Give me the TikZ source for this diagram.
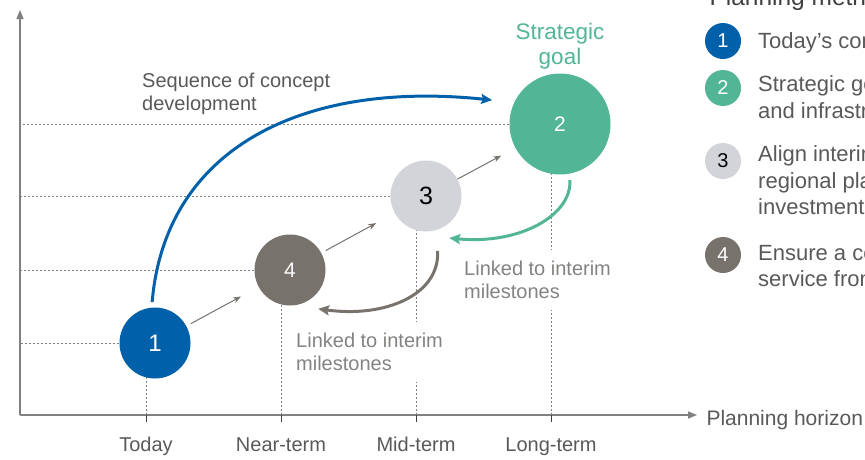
\documentclass[tikz,border=0pt]{standalone}
\usepackage{fontspec}
\setmainfont{Liberation Sans}
\usetikzlibrary{arrows.meta,calc,backgrounds}
\definecolor{planblue}{HTML}{0061AA}
\definecolor{plangreen}{HTML}{52B596}
\definecolor{planlight}{HTML}{D2D4D9}
\definecolor{plandark}{HTML}{78726D}
\definecolor{axisgray}{HTML}{808080}
\definecolor{textgray}{HTML}{595959}
\definecolor{notegray}{HTML}{858381}
\definecolor{headgray}{HTML}{404040}

\begin{document}
\begin{tikzpicture}[
			x=1pt, y=-1pt,
			every node/.style={font=\fontsize{20}{23.5}\selectfont, text=textgray},
			milestone/.style={circle, inner sep=0pt, minimum size=71pt},
			badge/.style={circle, inner sep=0pt, minimum size=36pt},
			guide/.style={draw=axisgray, line width=0.8pt, dash pattern=on 2pt off 2pt},
			hop/.style={draw=plandark, line width=1pt, -{Stealth[length=8pt,width=6pt]}},
			link/.style={line width=3pt, -{Stealth[length=11pt,width=10pt,inset=2pt]}},
			note/.style={align=left, anchor=north west, inner sep=0pt},
			keytext/.style={note, font=\fontsize{22}{26.3}\selectfont}
		]
		\useasboundingbox (0,0) rectangle (865,459);
		\clip (0,0) rectangle (865,459);

		% axes
		\coordinate (origin) at (20,415);
		\coordinate (ytop) at (20,10);
		\coordinate (xend) at (697,415);
		\draw[axisgray, line width=1.5pt, -{Triangle[length=9pt,width=7pt]}] (origin) -- (ytop);
		\draw[axisgray, line width=1.5pt, -{Triangle[length=9pt,width=7pt]}] (origin) -- (xend);
		\node[anchor=base west, font=\fontsize{21}{25}\selectfont] (horizon) at (703,425) {Planning horizon};

		\foreach \x/\t [count=\i] in {146/Today, 281/Near-term, 416/Mid-term, 551/Long-term} {
				\coordinate (t\i) at (\x,415);
				\draw[headgray, line width=1pt] (t\i) -- ++(0,7);
				\node[anchor=base] (tick\i) at (\x,451) {\t};
			}

		% milestones
		\node[milestone, fill=planblue, text=white, font=\fontsize{24}{24}\selectfont] (today) at (155,343) {1};
		\node[milestone, fill=plandark, text=white, font=\fontsize{21}{21}\selectfont] (near) at (290,270) {4};
		\node[milestone, fill=planlight, text=black, font=\fontsize{25}{25}\selectfont] (mid) at (426,196) {3};
		\node[milestone, fill=plangreen, text=white, minimum size=101pt, font=\fontsize{21}{21}\selectfont] (goal) at (560,124) {2};

		\begin{scope}[on background layer]
			\draw[guide] (today) -- (today -| origin);
			\draw[guide] (near) -- (near -| origin);
			\draw[guide] (mid) -- (mid -| origin);
			\draw[guide] (goal) -- (goal -| origin);
			\draw[guide] (t1) -- (t1 |- today);
			\draw[guide] (t2) -- (t2 |- near);
			\draw[guide] (t3) -- (t3 |- mid);
			\draw[guide] (t4) -- (t4 |- goal);
		\end{scope}

		\draw[hop, shorten <=5pt, shorten >=20pt] (today) -- (near);
		\draw[hop, shorten <=5pt, shorten >=21pt] (near) -- (mid);
		\draw[hop, shorten >=16pt] (mid) -- (goal);

		\node[align=center, anchor=north, text=plangreen, font=\fontsize{22.5}{25}\selectfont] (goallabel) at (560,20) {Strategic\\goal};

		% sequence and feedback
		\draw[link, planblue] ($(today)+(94:41pt)$) .. controls (165,150) and (300,80) .. ($(goal)+(160.6:72pt)$);
		\node[note] (seqlabel) at (142,72.4) {Sequence of concept\\development};

		\draw[link, plangreen] ($(goal)+(-80:57pt)$) .. controls (572,215) and (520,245) .. ($(mid)+(-61:48pt)$);
		\draw[link, plandark] ($(mid)+(-78:56pt)$) .. controls (440,295) and (385,318) .. ($(near)+(-54:48pt)$);

		\node[note, inner ysep=11pt, fill=white, text=notegray] (linkmid) at (464,249.4) {Linked to interim\\milestones};
		\node[note, inner ysep=11pt, fill=white, text=notegray] (linknear) at (296,321.4) {Linked to interim\\milestones};

		% key
		\node[anchor=base west, text=headgray, font=\fontsize{24.5}{28}\selectfont] (heading) at (706,5.5) {Planning methodology};
		\foreach \y/\fc/\nc/\n in {41/planblue/white/1, 88/plangreen/white/2, 161/planlight/black/3, 255/plandark/white/4}
			\node[badge, fill=\fc, text=\nc] (key\n) at (723,\y) {\n};
		\node[keytext] (keytext1) at (758,32) {Today’s conditions};
		\node[keytext] (keytext2) at (758,75.7) {Strategic goals\\and infrastructure};
		\node[keytext] (keytext3) at (758,145.7) {Align interim\\regional plans\\investment};
		\node[keytext] (keytext4) at (758,244) {Ensure a consistent\\service from};
	\end{tikzpicture}
\end{document}
